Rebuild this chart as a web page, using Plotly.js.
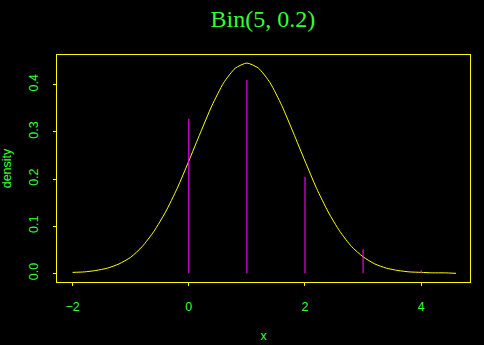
<!DOCTYPE html>
<html>
<head>
<meta charset="utf-8">
<script src="https://cdn.plot.ly/plotly-3.0.1.min.js"></script>
<style>html,body{margin:0;padding:0;background:#000;}</style>
</head>
<body>
<div id="chart" style="width:484px;height:345px;"></div>
<script>
// Binomial probabilities (vertical lines)
var binX = [0, 1, 2, 3, 4, 5];
var binP = [0.328, 0.410, 0.205, 0.051, 0.0064, 0.0003];

// Smooth density curve
var curveX = [-2.0,-1.8,-1.6,-1.4,-1.2,-1.0,-0.8,-0.6,-0.4,-0.2,0.0,0.2,0.4,0.6,0.8,1.0,1.2,1.4,1.6,1.8,2.0,2.2,2.4,2.6,2.8,3.0,3.2,3.4,3.6,3.8,4.0,4.2,4.4,4.6];
var curveY = [0.002,0.003,0.006,0.011,0.020,0.034,0.057,0.089,0.130,0.180,0.238,0.298,0.356,0.404,0.435,0.446,0.435,0.404,0.356,0.298,0.238,0.180,0.130,0.089,0.057,0.035,0.020,0.011,0.006,0.003,0.002,0.001,0.001,0.000];

var xTicks = [-2, 0, 2, 4];
var yTicks = [0.0, 0.1, 0.2, 0.3, 0.4];

var green = '#33ff33';
var yellow = '#ffff00';

// build spike segments from data
var segX = [], segY = [];
for (var i = 0; i < binX.length; i++) {
  segX.push(binX[i], binX[i], null);
  segY.push(0, binP[i], null);
}

var traces = [
  {x: curveX, y: curveY, type: 'scatter', mode: 'lines',
   line: {color: yellow, width: 1, shape: 'spline', smoothing: 0.6}, hoverinfo: 'skip'},
  {x: segX, y: segY, type: 'scatter', mode: 'lines',
   line: {color: '#ff00ff', width: 1.1}, hoverinfo: 'skip'}
];

var tickFont = {family: 'Liberation Sans', size: 12.5, color: green};

var layout = {
  width: 484, height: 345,
  paper_bgcolor: '#000', plot_bgcolor: '#000',
  showlegend: false,
  margin: {l: 57, r: 14, t: 55, b: 63},
  title: {text: 'Bin(5, 0.2)', font: {family: 'Liberation Serif', size: 24, color: green},
          x: 0.543, xanchor: 'center', xref: 'container', y: 0.945, yanchor: 'middle', yref: 'container'},
  xaxis: {
    range: [-2.268, 4.84], tickvals: xTicks,
    ticktext: xTicks.map(function(v){return String(v).replace('-', '\u2212');}),
    showgrid: false, zeroline: false,
    showline: true, mirror: true, linecolor: yellow, linewidth: 1,
    ticks: 'outside', ticklen: 3, tickcolor: yellow, tickwidth: 1,
    ticklabelstandoff: 10,
    tickfont: tickFont,
    title: {text: 'x', font: tickFont, standoff: 18}
  },
  yaxis: {
    range: [-0.0184, 0.463], tickvals: yTicks, ticktext: yTicks.map(function(v){return v.toFixed(1);}),
    showgrid: false, zeroline: false,
    showline: true, mirror: true, linecolor: yellow, linewidth: 1,
    ticks: 'outside', ticklen: 3, tickcolor: yellow, tickwidth: 1,
    tickangle: -90, ticklabelstandoff: 10,
    tickfont: tickFont,
    title: {text: 'density', font: tickFont, standoff: 12}
  }
};

Plotly.newPlot('chart', traces, layout, {staticPlot: true, displayModeBar: false});
</script>
</body>
</html>
